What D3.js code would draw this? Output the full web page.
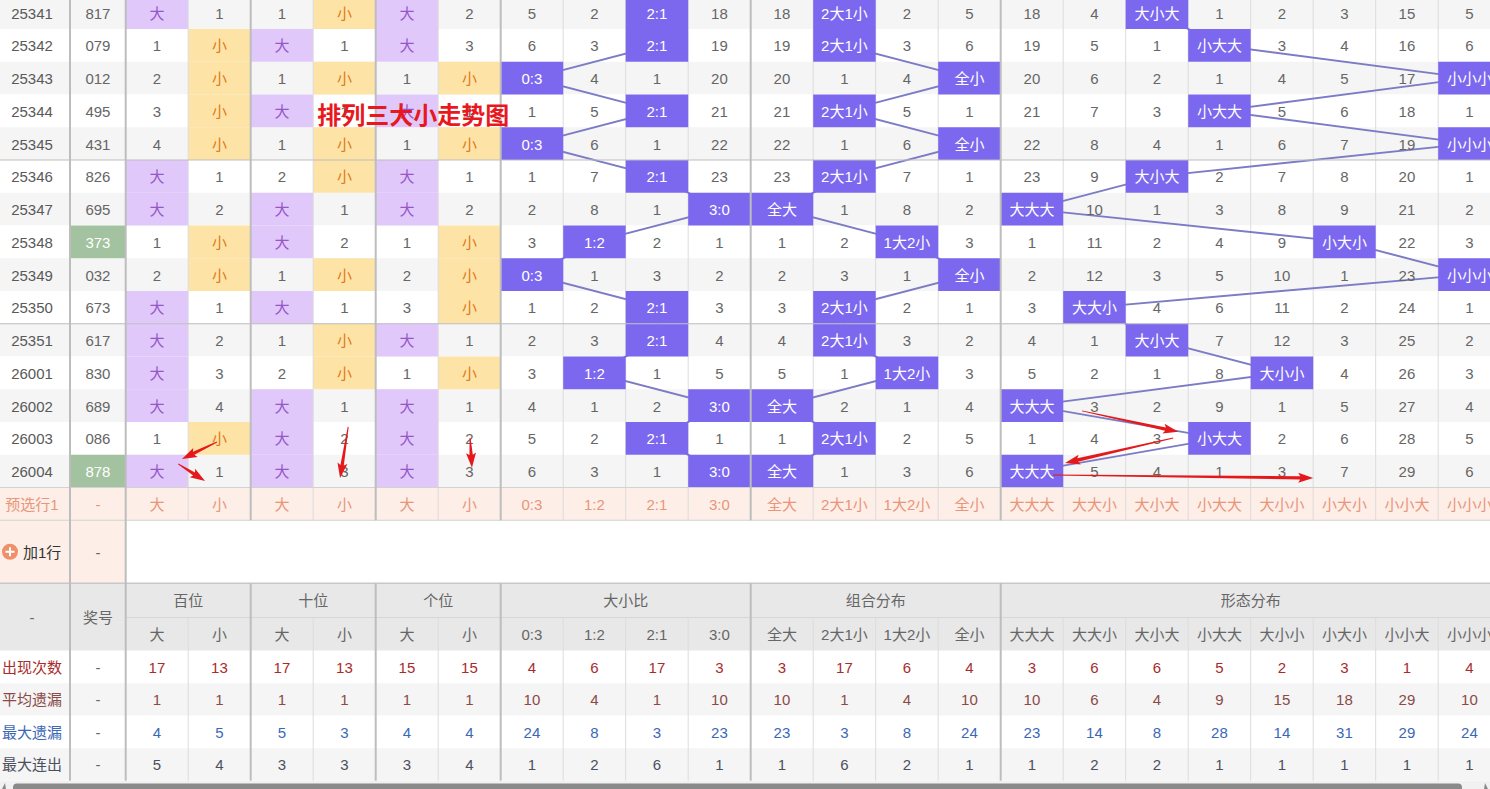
<!DOCTYPE html>
<html><head><meta charset="utf-8">
<script src="https://cdn.jsdelivr.net/npm/d3@7"></script>
<style>
body{margin:0;background:#fff;overflow:hidden}
svg{display:block;font-family:"Liberation Sans",Arial,"Noto Sans CJK SC",sans-serif}
</style>
</head><body>
<svg id="chart" width="1490" height="789"></svg>
<script>
// ---------------- data ----------------
const periods = ["25341","25342","25343","25344","25345","25346","25347","25348","25349","25350","25351","26001","26002","26003","26004"];
const draws   = ["817","079","012","495","431","826","695","373","032","673","617","830","689","086","878"];
const groups  = ["百位","十位","个位","大小比","组合分布","形态分布"];
const groupSpans = [2,2,2,4,4,8];
const subHeads = ["大","小","大","小","大","小","0:3","1:2","2:1","3:0","全大","2大1小","1大2小","全小","大大大","大大小","大小大","小大大","大小小","小大小","小小大","小小小"];
// omission values per row (0 = hit in that column)
const missRows = [
  [0,1,1,0,0,2, 5,2,0,18, 18,0,2,5, 18,4,0,1,2,3,15,5],
  [1,0,0,1,0,3, 6,3,0,19, 19,0,3,6, 19,5,1,0,3,4,16,6],
  [2,0,1,0,1,0, 0,4,1,20, 20,1,4,0, 20,6,2,1,4,5,17,0],
  [3,0,0,1,0,1, 1,5,0,21, 21,0,5,1, 21,7,3,0,5,6,18,1],
  [4,0,1,0,1,0, 0,6,1,22, 22,1,6,0, 22,8,4,1,6,7,19,0],
  [0,1,2,0,0,1, 1,7,0,23, 23,0,7,1, 23,9,0,2,7,8,20,1],
  [0,2,0,1,0,2, 2,8,1,0, 0,1,8,2, 0,10,1,3,8,9,21,2],
  [1,0,0,2,1,0, 3,0,2,1, 1,2,0,3, 1,11,2,4,9,0,22,3],
  [2,0,1,0,2,0, 0,1,3,2, 2,3,1,0, 2,12,3,5,10,1,23,0],
  [0,1,0,1,3,0, 1,2,0,3, 3,0,2,1, 3,0,4,6,11,2,24,1],
  [0,2,1,0,0,1, 2,3,0,4, 4,0,3,2, 4,1,0,7,12,3,25,2],
  [0,3,2,0,1,0, 3,0,1,5, 5,1,0,3, 5,2,1,8,0,4,26,3],
  [0,4,0,1,0,1, 4,1,2,0, 0,2,1,4, 0,3,2,9,1,5,27,4],
  [1,0,0,2,0,2, 5,2,0,1, 1,0,2,5, 1,4,3,0,2,6,28,5],
  [0,1,0,3,0,3, 6,3,1,0, 0,1,3,6, 0,5,4,1,3,7,29,6]
];
const presetLabel = "预选行1";
const addRowLabel = "加1行";
const statLabels = ["出现次数","平均遗漏","最大遗漏","最大连出"];
const statCount  = [17,13,17,13,15,15, 4,6,17,3, 3,17,6,4, 3,6,6,5,2,3,1,4];
const statAvg    = [1,1,1,1,1,1, 10,4,1,10, 10,1,4,10, 10,6,4,9,15,18,29,10];
const statMaxMiss= [4,5,5,3,4,4, 24,8,3,23, 23,3,8,24, 23,14,8,28,14,31,29,24];
const statMaxRun = [5,4,3,3,3,4, 1,2,6,1, 1,6,2,1, 1,2,2,1,1,1,1,1];
const titleText = "排列三大小走势图";
// annotation arrows in cell units: [col1,row1,col2,row2]
const arrows = [
  [1.46,13.61,0.90,14.13],
  [0.84,14.28,1.27,14.80],
  [3.56,13.15,3.43,14.71],
  [5.51,13.49,5.54,14.40],
  [15.30,12.66,16.84,13.30],
  [16.76,13.49,15.03,14.25],
  [14.84,14.62,19.00,14.71]
];

// ---------------- layout ----------------
const W = 1490, H = 789;
const svg = d3.select("#chart");
const nCols = subHeads.length;
const x = d3.scaleLinear().domain([0, nCols]).range([125.7, 1500.7]);
const y = d3.scaleLinear().domain([0, 16]).range([-3.75, 520.25]);
const xPeriod = 32, xDraw = 97.9, drawLeft = 70;
const addTop = y(16), addBot = 583.3;
const h1Top = addBot, h1Bot = 617.5, h2Bot = 650.7;
const ys = d3.scaleLinear().domain([0, 4]).range([h2Bot, 780.7]);
const colW = x(1) - x(0), rowH = y(1) - y(0);
const groupStarts = groupSpans.reduce((a, s, i) => (a.push(i ? a[i-1] + groupSpans[i-1] : 0), a), []);
const groupX = groupStarts.slice(1).map(g => x(g));

const C = {
  grid: "#dcdcdc", thick: "#bdbdbd", alt: "#f5f5f5", txt: "#666",
  big: "#e1c8fa", bigT: "#9657c8", small: "#fde4a6", smallT: "#e2781c",
  hit: "#7b68ee", line: "#7c7cc6", green: "#a3c29f", preset: "#fdeee7", presetT: "#e9957a",
  header: "#e8e8e8", red: "#e8191e"
};
const statColors = ["#a82c2c", "#8b4a47", "#3b68b6", "#4b505e"];

// layers
const Lbg = svg.append("g"), Lgrid = svg.append("g"), Lline = svg.append("g"), Lbox = svg.append("g"),
      Lsep = svg.append("g"), Ltxt = svg.append("g").attr("font-size", 15).attr("text-anchor", "middle").attr("dominant-baseline", "central"),
      Ltop = svg.append("g");

// ---- backgrounds ----
Lbg.selectAll("rect.rowbg").data(periods).join("rect").attr("class", "rowbg")
  .attr("x", 0).attr("y", (d, i) => y(i)).attr("width", W).attr("height", rowH)
  .attr("fill", (d, i) => i % 2 === 0 ? C.alt : "#fff");
Lbg.append("rect").attr("x", 0).attr("y", y(15)).attr("width", W).attr("height", rowH).attr("fill", C.preset);
Lbg.append("rect").attr("x", 0).attr("y", addTop).attr("width", x(0)).attr("height", addBot - addTop).attr("fill", C.preset);
Lbg.append("rect").attr("x", 0).attr("y", h1Top).attr("width", W).attr("height", h2Bot - h1Top).attr("fill", C.header);
Lbg.selectAll("rect.stbg").data(statLabels).join("rect").attr("class", "stbg")
  .attr("x", 0).attr("y", (d, k) => ys(k)).attr("width", W).attr("height", ys(1) - ys(0))
  .attr("fill", (d, k) => k % 2 ? C.alt : "#fff");

const cells = [];
missRows.forEach((row, r) => row.forEach((v, c) => cells.push({r, c, v})));
Lbg.selectAll("rect.pos").data(cells.filter(d => d.c < 6 && d.v === 0)).join("rect").attr("class", "pos")
  .attr("x", d => x(d.c)).attr("y", d => y(d.r)).attr("width", colW).attr("height", rowH)
  .attr("fill", d => d.c % 2 === 0 ? C.big : C.small);
const isPair = s => new Set(s.split("")).size < 3;
Lbg.selectAll("rect.drawbg").data(draws.map((d, i) => ({d, i})).filter(o => isPair(o.d))).join("rect").attr("class", "drawbg")
  .attr("x", drawLeft).attr("y", o => y(o.i)).attr("width", x(0) - drawLeft).attr("height", rowH)
  .attr("fill", C.green);

// ---- grid ----
const inner = d3.range(1, nCols).filter(c => !groupStarts.includes(c));
Lgrid.selectAll("line.vg").data(inner).join("line").attr("class", "vg")
  .attr("x1", c => x(c)).attr("x2", c => x(c)).attr("y1", 0).attr("y2", y(16))
  .attr("stroke", C.grid);
Lgrid.selectAll("line.vg2").data(inner).join("line").attr("class", "vg2")
  .attr("x1", c => x(c)).attr("x2", c => x(c)).attr("y1", h1Bot).attr("y2", ys(4))
  .attr("stroke", C.grid);
Lgrid.append("line").attr("x1", x(0)).attr("x2", W).attr("y1", h1Bot).attr("y2", h1Bot).attr("stroke", "#d6d6d6");

// ---- trend lines ----
const lineGroups = [[6, 10], [10, 14], [14, 22]];
lineGroups.forEach(([a, b]) => {
  const pts = missRows.map((row, r) => {
    const c = row.findIndex((v, k) => k >= a && k < b && v === 0);
    return [x(c + 0.5), y(r + 0.5)];
  });
  Lline.append("path").attr("d", d3.line()(pts)).attr("fill", "none")
    .attr("stroke", C.line).attr("stroke-width", 2);
});

// ---- hit boxes ----
Lbox.selectAll("rect.hit").data(cells.filter(d => d.c >= 6 && d.v === 0)).join("rect").attr("class", "hit")
  .attr("x", d => x(d.c)).attr("y", d => y(d.r)).attr("width", colW).attr("height", rowH)
  .attr("fill", C.hit);

// ---- separators & thick borders ----
[5, 10].forEach(k => Lsep.append("line").attr("x1", 0).attr("x2", W).attr("y1", y(k)).attr("y2", y(k))
  .attr("stroke", C.thick).attr("stroke-width", 1.2));
[15, 16].forEach(k => Lsep.append("line").attr("x1", 0).attr("x2", W).attr("y1", y(k)).attr("y2", y(k))
  .attr("stroke", "#d2d2d2").attr("stroke-width", 1.2));
Lsep.append("line").attr("x1", 0).attr("x2", W).attr("y1", h1Top).attr("y2", h1Top).attr("stroke", "#c8c8c8").attr("stroke-width", 1.5);
[drawLeft, x(0)].forEach(px => Lsep.append("line").attr("x1", px).attr("x2", px).attr("y1", 0).attr("y2", ys(4))
  .attr("stroke", C.thick).attr("stroke-width", 2));
Lsep.selectAll("line.gx1").data(groupX).join("line").attr("class", "gx1")
  .attr("x1", d => d).attr("x2", d => d).attr("y1", 0).attr("y2", y(16)).attr("stroke", C.thick).attr("stroke-width", 2);
Lsep.selectAll("line.gx2").data(groupX).join("line").attr("class", "gx2")
  .attr("x1", d => d).attr("x2", d => d).attr("y1", h1Top).attr("y2", ys(4)).attr("stroke", C.thick).attr("stroke-width", 2);

// ---- texts ----
Ltxt.selectAll("text.cell").data(cells).join("text").attr("class", "cell")
  .attr("x", d => x(d.c + 0.5)).attr("y", d => y(d.r + 0.5) + 0.5)
  .attr("fill", d => d.v !== 0 ? C.txt : (d.c < 6 ? (d.c % 2 === 0 ? C.bigT : C.smallT) : "#fff"))
  .text(d => d.v !== 0 ? d.v : subHeads[d.c]);
Ltxt.selectAll("text.per").data(periods).join("text").attr("class", "per")
  .attr("x", xPeriod).attr("y", (d, i) => y(i + 0.5) + 0.5).attr("fill", "#595959").text(d => d);
Ltxt.selectAll("text.drw").data(draws).join("text").attr("class", "drw")
  .attr("x", xDraw).attr("y", (d, i) => y(i + 0.5) + 0.5)
  .attr("fill", d => isPair(d) ? "#fff" : C.txt).text(d => d);
Ltxt.append("text").attr("x", xPeriod).attr("y", y(15.5) + 0.5).attr("fill", C.presetT).text(presetLabel);
Ltxt.append("text").attr("x", xDraw).attr("y", y(15.5) + 0.5).attr("fill", C.presetT).text("-");
Ltxt.selectAll("text.pre").data(subHeads).join("text").attr("class", "pre")
  .attr("x", (d, i) => x(i + 0.5)).attr("y", y(15.5) + 0.5).attr("fill", C.presetT).text(d => d);

// add-row
const addMid = (addTop + addBot) / 2;
Ltxt.append("circle").attr("cx", 10).attr("cy", addMid).attr("r", 8).attr("fill", "#f0906a");
Ltxt.append("path").attr("d", `M5.5,${addMid}H14.5M10,${addMid - 4.5}V${addMid + 4.5}`).attr("stroke", "#fff").attr("stroke-width", 2);
Ltxt.append("text").attr("x", 23).attr("y", addMid + 0.5).attr("text-anchor", "start").attr("fill", "#333").text(addRowLabel);
Ltxt.append("text").attr("x", xDraw).attr("y", addMid + 0.5).attr("fill", C.txt).text("-");

// header texts
Ltxt.selectAll("text.grp").data(groups).join("text").attr("class", "grp")
  .attr("x", (d, i) => (x(groupStarts[i]) + Math.min(x(groupStarts[i] + groupSpans[i]), 1500.7)) / 2)
  .attr("y", (h1Top + h1Bot) / 2 + 0.5).attr("fill", C.txt).text(d => d);
Ltxt.selectAll("text.sub").data(subHeads).join("text").attr("class", "sub")
  .attr("x", (d, i) => x(i + 0.5)).attr("y", (h1Bot + h2Bot) / 2 + 0.5).attr("fill", C.txt).text(d => d);
Ltxt.append("text").attr("x", xPeriod).attr("y", (h1Top + h2Bot) / 2).attr("fill", C.txt).text("-");
Ltxt.append("text").attr("x", xDraw).attr("y", (h1Top + h2Bot) / 2).attr("fill", C.txt).text("奖号");

// stats texts
[statCount, statAvg, statMaxMiss, statMaxRun].forEach((arr, k) => {
  Ltxt.append("text").attr("x", xPeriod).attr("y", ys(k + 0.5) + 0.5).attr("fill", statColors[k]).text(statLabels[k]);
  Ltxt.append("text").attr("x", xDraw).attr("y", ys(k + 0.5) + 0.5).attr("fill", C.txt).text("-");
  Ltxt.selectAll("text.st" + k).data(arr).join("text").attr("class", "st" + k)
    .attr("x", (d, i) => x(i + 0.5)).attr("y", ys(k + 0.5) + 0.5).attr("fill", statColors[k]).text(d => d);
});

// ---- overlays ----
Ltop.append("text").attr("x", x(3) + 4).attr("y", y(3.5) + 2.5).attr("dominant-baseline", "central")
  .attr("font-family", "'Noto Sans CJK SC',sans-serif").attr("font-weight", "bold").attr("font-size", 24)
  .attr("fill", C.red).text(titleText);

function arrowPath(x1, y1, x2, y2) {
  const dx = x2 - x1, dy = y2 - y1, L = Math.hypot(dx, dy), ux = dx / L, uy = dy / L, nx = -uy, ny = ux;
  const h = Math.min(13, L * 0.45), hw = 5, s0 = 0.5, s1 = 1.7;
  const bx = x2 - ux * h, by = y2 - uy * h;
  return d3.line()([[x1 + nx * s0, y1 + ny * s0], [bx + nx * s1, by + ny * s1], [bx - ux * 2 + nx * hw, by - uy * 2 + ny * hw], [x2, y2],
    [bx - ux * 2 - nx * hw, by - uy * 2 - ny * hw], [bx - nx * s1, by - ny * s1], [x1 - nx * s0, y1 - ny * s0]]) + "Z";
}
Ltop.selectAll("path.arrow").data(arrows).join("path").attr("class", "arrow")
  .attr("d", a => arrowPath(x(a[0]), y(a[1]), x(a[2]), y(a[3])))
  .attr("fill", "#e5191b");

// scrollbar
Ltop.append("rect").attr("x", 0).attr("y", 781).attr("width", W).attr("height", 8).attr("fill", "#f1f1f1");
Ltop.append("rect").attr("x", 13).attr("y", 783.5).attr("width", 1449).attr("height", 10).attr("rx", 4).attr("fill", "#8a8a8a");
Ltop.append("path").attr("d", "M2,789L5,783L6,789Z").attr("fill", "#8a8a8a");
Ltop.append("path").attr("d", "M1484,789L1485,783L1488,789Z").attr("fill", "#8a8a8a");
</script>
</body></html>
